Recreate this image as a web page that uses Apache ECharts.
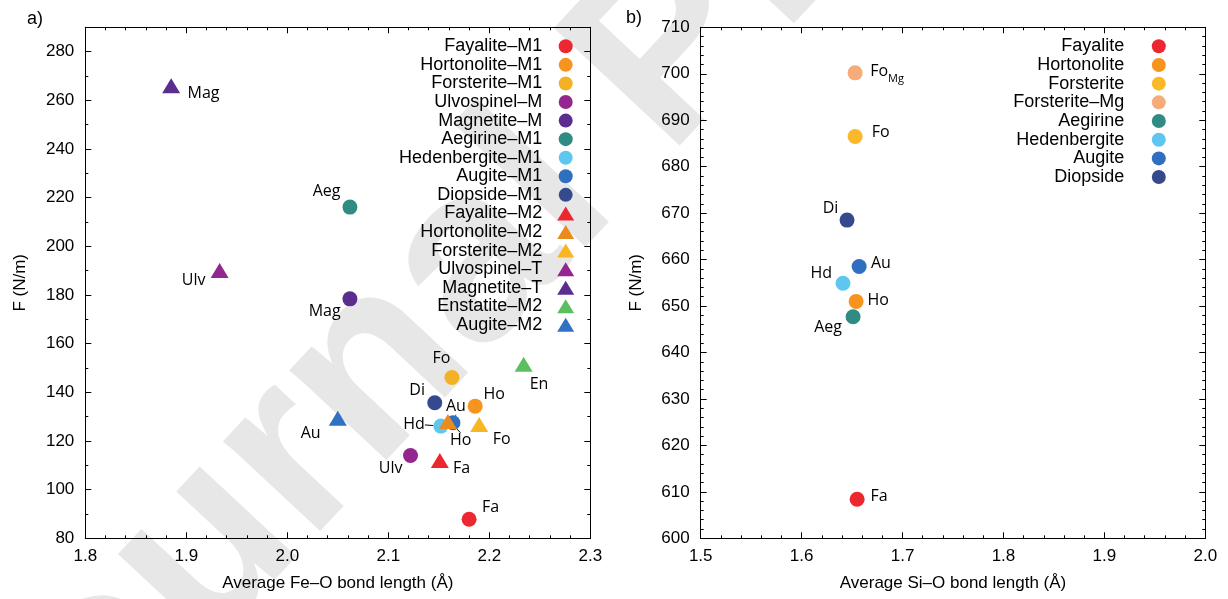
<!DOCTYPE html>
<html><head><meta charset="utf-8">
<script src="https://cdn.jsdelivr.net/npm/echarts@6/dist/echarts.min.js"></script>
<style>html,body{margin:0;padding:0;background:#fff}#c{width:1228px;height:599px}</style>
</head><body><div id="c"></div>
<script>
// ---- data: panel a) ----
const leftNames = ['Fayalite–M1','Hortonolite–M1','Forsterite–M1','Ulvospinel–M','Magnetite–M','Aegirine–M1','Hedenbergite–M1','Augite–M1','Diopside–M1','Fayalite–M2','Hortonolite–M2','Forsterite–M2','Ulvospinel–T','Magnetite–T','Enstatite–M2','Augite–M2'];
const leftFeO = [2.180, 2.186, 2.163, 2.122, 2.062, 2.062, 2.152, 2.164, 2.146, 2.151, 2.159, 2.190, 1.933, 1.885, 2.234, 2.050];
const leftF   = [87.8, 134.3, 146.1, 114.0, 178.4, 216.1, 126.1, 127.5, 135.7, 112.0, 128.0, 126.8, 190.1, 266.0, 151.5, 129.3];
const leftTags = ['Fa','Ho','Fo','Ulv','Mag','Aeg','Hd','Au','Di','Fa','Ho','Fo','Ulv','Mag','En','Au'];
// ---- data: panel b) ----
const rightNames = ['Fayalite','Hortonolite','Forsterite','Forsterite–Mg','Aegirine','Hedenbergite','Augite','Diopside'];
const rightSiO = [1.655, 1.654, 1.653, 1.653, 1.651, 1.641, 1.657, 1.645];
const rightF   = [608.4, 651.0, 686.5, 700.2, 647.7, 654.9, 658.5, 668.5];
const rightTags = ['Fa','Ho','Fo','{a|Fo}{b|Mg}','Aeg','Hd','Au','Di'];
// ---- axes ----
const leftXRange = [1.8, 2.3], leftYRange = [80, 290];
const rightXRange = [1.5, 2.0], rightYRange = [600, 710];

// ---- styles ----
const leftColors = ['#ec2730','#f7941d','#f3b225','#93278f','#5b2d8e','#2f8b83','#5ec6ef','#2f6fc0','#354a8d','#ec2730','#ea8b1e','#f8b623','#93278f','#5b2d8e','#5cbf5f','#2f72c4'];
const leftSymbols = ['circle','circle','circle','circle','circle','circle','circle','circle','circle','triangle','triangle','triangle','triangle','triangle','triangle','triangle'];
const leftShift = [[21.5,-12.3],[19,-11.9],[-10.5,-19],[-19.8,12.5],[-25.3,13],[-23.3,-15.5],[-26.7,-1.2],[3,-16],[-17.6,-12.8],[21.7,7.8],[12.8,19.3],[22.4,14.6],[-26,9.7],[32.4,8],[15.4,20],[-27.2,15.3]];
const leftLeader = [false,false,false,false,false,false,true,true,false,false,true,false,false,false,false,false];
const rightColors = ['#ec2730','#f7941d','#fbb829','#f6ab78','#2f8b83','#5ec6ef','#2f6fc0','#354a8d'];
const rightShift = [[21.9,-3],[22,-0.9],[25.6,-3.7],[32,-1],[-25,10.5],[-21.7,-10],[21.8,-3.4],[-16.5,-12]];

const FONT = 'Liberation Sans';
const LFONT = 'Open Sans';
const black = '#000';

function xAxis(grid, range, pos, withLabels, name) {
  return {
    type: 'value', gridIndex: grid, position: pos, min: range[0], max: range[1], interval: 0.1,
    name: name || '', nameLocation: 'middle', nameGap: 37,
    nameTextStyle: {fontFamily: FONT, fontSize: 17, color: black},
    axisLine: {show: true, onZero: false, lineStyle: {color: black, width: 1}},
    axisTick: {show: true, inside: true, length: 6, lineStyle: {color: black}},
    minorTick: {show: true, splitNumber: 5, length: 3, lineStyle: {color: black}},
    splitLine: {show: false}, minorSplitLine: {show: false},
    axisLabel: {show: withLabels, margin: 10, fontFamily: FONT, fontSize: 17, color: black,
      formatter: v => v.toFixed(1)}
  };
}
function yAxis(grid, range, pos, interval, tickLen, withLabels, minorSplit, name) {
  return {
    type: 'value', gridIndex: grid, position: pos, min: range[0], max: range[1], interval: interval,
    name: name || '', nameLocation: 'middle', nameGap: 56,
    nameTextStyle: {fontFamily: FONT, fontSize: 17, color: black},
    axisLine: {show: true, onZero: false, lineStyle: {color: black, width: 1}},
    axisTick: {show: true, inside: true, length: tickLen, lineStyle: {color: black}},
    minorTick: {show: minorSplit > 0, splitNumber: minorSplit || 5, length: 3, lineStyle: {color: black}},
    splitLine: {show: false}, minorSplitLine: {show: false},
    axisLabel: {show: withLabels, margin: 11, fontFamily: FONT, fontSize: 17, color: black,
      showMaxLabel: range[1] % interval === 0}
  };
}

const series = [];
leftNames.forEach((n, i) => {
  const tri = leftSymbols[i] === 'triangle';
  series.push({
    type: 'scatter', name: n, xAxisIndex: 0, yAxisIndex: 0,
    symbol: leftSymbols[i], symbolSize: tri ? [18, 15] : 15,
    itemStyle: {color: leftColors[i], opacity: 1},
    data: [[leftFeO[i], leftF[i]]],
    label: {show: true, position: 'inside', formatter: leftTags[i], color: black, fontFamily: LFONT, fontSize: 16},
    labelLayout: {dx: leftShift[i][0], dy: leftShift[i][1]},
    labelLine: {show: leftLeader[i], lineStyle: {color: black, width: 1}},
    emphasis: {disabled: true}, z: 3
  });
});
rightNames.forEach((n, i) => {
  series.push({
    type: 'scatter', name: n, xAxisIndex: 2, yAxisIndex: 4,
    symbol: 'circle', symbolSize: 15,
    itemStyle: {color: rightColors[i], opacity: 1},
    data: [[rightSiO[i], rightF[i]]],
    label: {show: true, position: 'inside', formatter: rightTags[i], color: black, fontFamily: LFONT, fontSize: 16,
      rich: {a: {fontFamily: LFONT, fontSize: 16, color: black}, b: {fontFamily: LFONT, fontSize: 11, color: black, padding: [14, 0, 0, 0]}}},
    labelLayout: {dx: rightShift[i][0], dy: rightShift[i][1]},
    emphasis: {disabled: true}, z: 3
  });
});

const chart = echarts.init(document.getElementById('c'), null, {renderer: 'canvas'});
chart.setOption({
  backgroundColor: '#fff',
  animation: false,
  grid: [
    {left: 85.3, top: 27.3, width: 505, height: 511},
    {left: 700.7, top: 27.3, width: 504.6, height: 511}
  ],
  xAxis: [
    xAxis(0, leftXRange, 'bottom', true, 'Average Fe–O bond length (Å)'),
    xAxis(0, leftXRange, 'top', false),
    xAxis(1, rightXRange, 'bottom', true, 'Average Si–O bond length (Å)'),
    xAxis(1, rightXRange, 'top', false)
  ],
  yAxis: [
    yAxis(0, leftYRange, 'left', 20, 6, true, 0, 'F (N/m)'),
    yAxis(0, leftYRange, 'left', 10, 3, false, 0),
    yAxis(0, leftYRange, 'right', 20, 6, false, 0),
    yAxis(0, leftYRange, 'right', 10, 3, false, 0),
    yAxis(1, rightYRange, 'left', 10, 6, true, 5, 'F (N/m)'),
    yAxis(1, rightYRange, 'right', 10, 6, false, 5)
  ],
  legend: [
    {orient: 'vertical', align: 'right', right: 653.8, top: 37.3, padding: 0,
     itemWidth: 17, itemHeight: 14, itemGap: 0.57, selectedMode: false, data: leftNames,
     textStyle: {fontFamily: FONT, fontSize: 18, color: black, padding: [0, 10, 0, 0]}},
    {orient: 'vertical', align: 'right', right: 62.2, top: 37.3, padding: 0,
     itemWidth: 17, itemHeight: 14, itemGap: 0.68, selectedMode: false, data: rightNames,
     textStyle: {fontFamily: FONT, fontSize: 18, color: black, padding: [0, 21, 0, 0]}}
  ],
  graphic: [
    {type: 'text', x: 670, y: 55, rotation: 0.82, z: -10, silent: true,
     style: {text: 'Journal Pre-proof', font: 'bold 250px "Liberation Sans"', fill: '#e7e7e7', align: 'center', verticalAlign: 'middle'}},
    {type: 'text', x: 27, y: 19.5, z: 10, style: {text: 'a)', font: '18px "Liberation Sans"', fill: black, align: 'left', verticalAlign: 'middle'}},
    {type: 'text', x: 626, y: 18, z: 10, style: {text: 'b)', font: '18px "Liberation Sans"', fill: black, align: 'left', verticalAlign: 'middle'}}
  ],
  series: series
});
</script></body></html>
